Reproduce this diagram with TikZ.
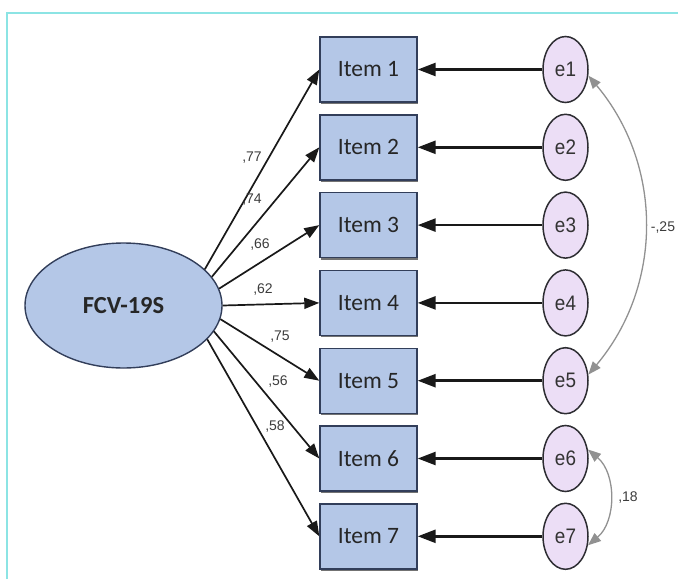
\documentclass[tikz,border=0pt]{standalone}
\usepackage{fontspec}
\setmainfont{Carlito}
\newfontfamily\narrowfont[FakeStretch=0.9]{Liberation Sans}
\newfontfamily\coeffont{Liberation Sans}
\usetikzlibrary{shapes.geometric,arrows.meta,shadows}
\definecolor{boxfill}{RGB}{180,199,231}
\definecolor{boxline}{RGB}{50,62,90}
\definecolor{efill}{RGB}{236,222,246}
\definecolor{eline}{RGB}{45,45,50}
\definecolor{framecol}{RGB}{140,228,228}
\definecolor{labcol}{RGB}{60,60,60}
\definecolor{covcol}{RGB}{145,145,145}
\begin{document}
\begin{tikzpicture}[x=1pt,y=1pt,
  itembox/.style={draw=boxline,line width=1.4pt,fill=boxfill,minimum width=97pt,minimum height=65pt,inner sep=0pt,
    font=\fontsize{23.5}{23.5}\selectfont,text=black!85,
    drop shadow={shadow xshift=1pt,shadow yshift=-2pt,fill=black!55,opacity=1}},
  errnode/.style={ellipse,draw=eline,line width=1.5pt,fill=efill,minimum width=45pt,minimum height=66pt,inner sep=0pt,
    font=\narrowfont\fontsize{21}{21}\selectfont,text=black!80},
  latent/.style={ellipse,draw=boxline,line width=1.4pt,fill=boxfill,minimum width=197pt,minimum height=125pt,inner sep=0pt,
    font=\bfseries\fontsize{24.5}{24.5}\selectfont,text=black!85},
  loadarrow/.style={draw=black!90,line width=1.7pt,-{Triangle[length=15pt,width=11pt]}},
  errarrow/.style={draw=black!90,line width=2.6pt,-{Triangle[length=18pt,width=13pt]}},
  covarrow/.style={draw=covcol,line width=1.3pt,{Triangle[length=13pt,width=10pt]}-{Triangle[length=13pt,width=10pt]}},
  coef/.style={font=\coeffont\fontsize{14}{14}\selectfont,text=labcol,inner sep=0pt}]
\useasboundingbox (0,0) rectangle (678,-579);
% frame
\draw[framecol,line width=1.2pt] (7,-579) -- (7,-13) -- (678,-13);
% latent
\node[latent] (fcv) at (123.5,-305.5) {FCV-19S};
% items and errors
\foreach \k in {1,...,7}{
  \pgfmathsetmacro{\yy}{-69.5-77.8*(\k-1)}
  \node[itembox] (item\k) at (368.5,\yy) {Item \k};
  \node[errnode] (e\k) at (565.5,\yy) {e\k};
  \draw[errarrow] (e\k.west) -- (item\k.east);
}
% loadings
\draw[loadarrow] (fcv.24) -- (item1.west);
\draw[loadarrow] (fcv.18) -- (item2.west);
\draw[loadarrow] (fcv.10) -- (item3.west);
\draw[loadarrow] (fcv.0) -- (item4.west);
\draw[loadarrow] (fcv.-8) -- (item5.west);
\draw[loadarrow] (fcv.-16) -- (item6.west);
\draw[loadarrow] (fcv.-22) -- (item7.west);
% loading labels
\node[coef] (l1) at (252,-158) {,77};
\node[coef] (l2) at (252,-200) {,74};
\node[coef] (l3) at (260,-245) {,66};
\node[coef] (l4) at (263,-290) {,62};
\node[coef] (l5) at (280,-337) {,75};
\node[coef] (l6) at (278,-382) {,56};
\node[coef] (l7) at (275,-427) {,58};
% covariances
\draw[covarrow] (e1.-15) to[out=-50,in=50] (e5.15);
\draw[covarrow] (e6.22) to[out=-40,in=40] (e7.-22);
\node[coef] (c15) at (663,-228) {-,25};
\node[coef] (c67) at (628,-498) {,18};
\end{tikzpicture}
\end{document}
